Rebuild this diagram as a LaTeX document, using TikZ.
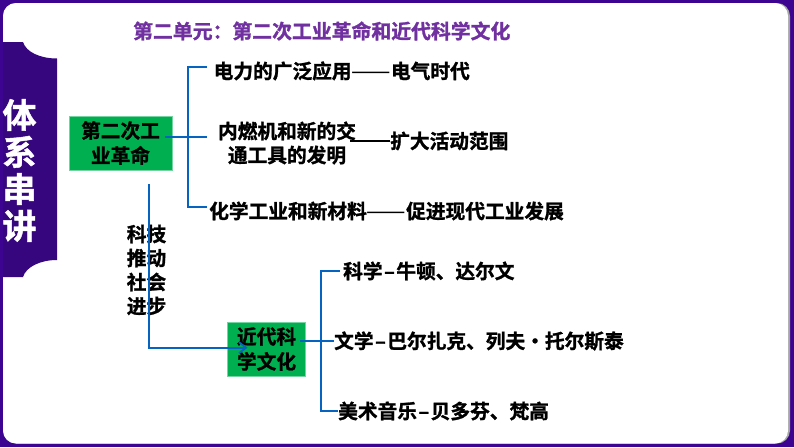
\documentclass[tikz,border=0pt]{standalone}
\usepackage{fontspec}
\setmainfont{Noto Sans CJK SC}[BoldFont={Noto Sans CJK SC Bold},BoldFeatures={FakeBold=1.3}]
\usetikzlibrary{arrows.meta}
\definecolor{frame}{HTML}{3C0490}
\definecolor{bandc}{HTML}{36067E}
\definecolor{titlec}{HTML}{7030A0}
\definecolor{boxg}{HTML}{00B050}
\definecolor{link}{HTML}{0563C1}
\tikzset{
  lbl/.style={inner sep=0pt,font=\fontsize{19.7}{24}\bfseries,text=black,align=center},
  boxn/.style={fill=boxg,draw=boxg!55!white,line width=0.8pt,inner sep=0pt,font=\fontsize{19.7}{25}\bfseries,text=black,align=center},
  conn/.style={draw=link,line width=2pt}
}
\newcommand{\dashmark}{\hspace{1.5pt}–\hspace{1.5pt}}
\newcommand{\longdash}{\raisebox{-1.2pt}{\fontsize{23.5}{24}\mdseries\selectfont ——}}
\begin{document}
\begin{tikzpicture}[x=1pt,y=-1pt]
\useasboundingbox (0,0) rectangle (794,447);
\fill[frame] (0,0) rectangle (794,447);
\fill[black!35,rounded corners=13pt] (3,3) rectangle (790,443.5);
\fill[white,rounded corners=13pt] (3,3) rectangle (788,443.5);
\fill[bandc] (3,42) -- (23,42) .. controls (26,52) and (40,58.5) .. (57,58.5) -- (57,260) .. controls (40,260) and (26,267) .. (23,277) -- (3,277) -- cycle;
\node[inner sep=0pt,font=\fontsize{34}{37}\bfseries,text=white,align=center] (side) at (19.5,170.5) {体\\系\\串\\讲};
\node[inner sep=0pt,font=\fontsize{19.85}{24}\bfseries,text=titlec,anchor=west] (title) at (133,31) {第二单元：第二次工业革命和近代科学文化};
\node[boxn,minimum width=103pt,minimum height=54pt] (a) at (120.5,143) {第二次工\\业革命};
\node[boxn,minimum width=78.5pt,minimum height=54pt] (b) at (266.5,349) {近代科\\学文化};
\node[lbl,anchor=west] (a1) at (213.5,71) {电力的广泛应用\longdash 电气时代};
\node[lbl] (a2) at (287,143) {内燃机和新的交\\通工具的发明};
\node[lbl,anchor=west] (a2b) at (390,141) {扩大活动范围};
\node[lbl,anchor=west] (a3) at (209,211) {化学工业和新材料\longdash 促进现代工业发展};
\node[lbl,anchor=west] (b1) at (343,271) {科学\dashmark 牛顿、达尔文};
\node[lbl,anchor=west] (b2) at (334,341) {文学\dashmark 巴尔扎克、列夫·托尔斯泰};
\node[lbl,anchor=west] (b3) at (338,411) {美术音乐\dashmark 贝多芬、梵高};
\node[lbl] (v) at (146.5,270) {科技\\推动\\社会\\进步};
\coordinate (hubA) at (188,137);
\coordinate (hubB) at (321.3,341);
\coordinate (start) at (148.7,184);
\coordinate (tip) at (247.5,347.7);
\draw[conn] (a.east) ++(-7,-6) -- (hubA);
\draw[conn] (a1.west) ++(-6.5,-4) -| (hubA);
\draw[conn] (a3.west) ++(-2,-4) -| (hubA);
\draw[conn] (hubA) -- ++(19,0);
\draw[conn] (b.east) ++(-6.5,-8) -- (b2.west);
\draw[conn] (b1.west) ++(-3,0) -| (hubB);
\draw[conn] (b3.west) -| (hubB);
\draw[draw=black,line width=1.1pt] (a2.east) ++(-6,-2) -- (a2b.west);
\draw[link,line width=1.8pt,-{Straight Barb[length=7pt,width=11pt,line width=1.8pt]}] (start) |- (tip);
\end{tikzpicture}
\end{document}
